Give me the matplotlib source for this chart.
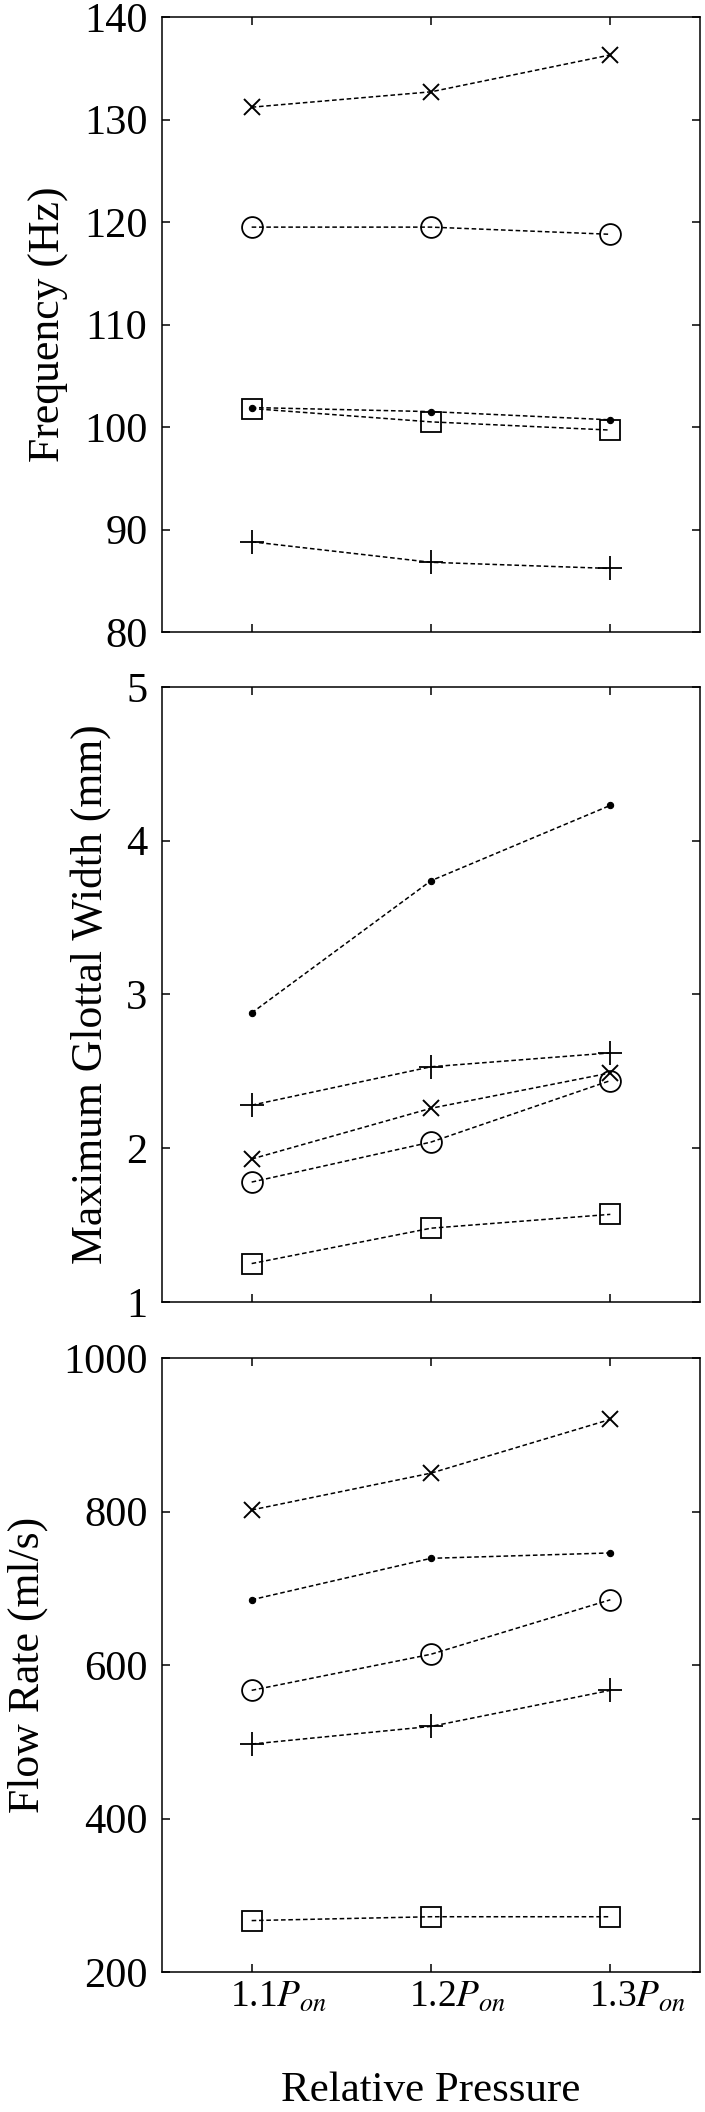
import matplotlib
matplotlib.use("Agg")
import matplotlib.pyplot as plt
from matplotlib.transforms import ScaledTranslation

plt.rcParams['font.family'] = 'serif'
plt.rcParams['font.serif'] = ['Liberation Serif', 'Times New Roman', 'DejaVu Serif']
plt.rcParams['mathtext.fontset'] = 'stix'

pressure = [1.1, 1.2, 1.3]
xtick_labels = [r'1.1$P_{on}$', r'1.2$P_{on}$', r'1.3$P_{on}$']

# Frequency (Hz)
freq_x = [131.2, 132.7, 136.3]
freq_circle = [119.5, 119.5, 118.8]
freq_dot = [101.9, 101.5, 100.7]
freq_square = [101.8, 100.5, 99.7]
freq_plus = [88.8, 86.8, 86.2]

# Maximum glottal width (mm)
gw_dot = [2.88, 3.74, 4.23]
gw_plus = [2.28, 2.53, 2.62]
gw_x = [1.93, 2.26, 2.49]
gw_circle = [1.78, 2.04, 2.44]
gw_square = [1.25, 1.48, 1.57]

# Flow rate (ml/s)
flow_x = [802, 850, 920]
flow_dot = [685, 739, 746]
flow_circle = [567, 614, 685]
flow_plus = [497, 520, 567]
flow_square = [267, 272, 272]

W, H = 705, 2112
fig = plt.figure(figsize=(W / 100, H / 100), dpi=100)

def ax_rect(top_px, bot_px):
    left = 162 / W
    width = 538 / W
    return [left, 1 - bot_px / H, width, (bot_px - top_px) / H]

styles = {
    'x': dict(marker='x', ms=12, mew=1.4, mfc='none'),
    'o': dict(marker='o', ms=15, mew=1.3, mfc='none'),
    'dot': dict(marker='o', ms=4.5, mew=0.8, mfc='black'),
    's': dict(marker='s', ms=14, mew=1.3, mfc='none'),
    '+': dict(marker='+', ms=17, mew=1.3, mfc='none'),
}

def draw(ax, series):
    for key, vals in series:
        ax.plot(pressure, vals, color='black', lw=1.1, ls=(0, (3, 1.8)),
                mec='black', **styles[key])

def style_axis(ax, ylim, yticks, ylabel, show_x):
    ax.set_xlim(1.05, 1.35)
    ax.set_ylim(*ylim)
    ax.set_yticks(yticks)
    ax.set_xticks(pressure)
    if show_x:
        ax.set_xticklabels(xtick_labels, fontsize=27)
        ax.set_xlabel('Relative Pressure', fontsize=31, labelpad=41)
    else:
        ax.set_xticklabels([])
    ax.set_ylabel(ylabel, fontsize=31.5, labelpad=11)
    ax.tick_params(direction='in', length=6, width=1.1, top=True, right=True)
    ax.tick_params(axis='y', pad=10.5, labelsize=30.5)
    ax.tick_params(axis='x', pad=6)
    for s in ax.spines.values():
        s.set_linewidth(1.1)

ax1 = fig.add_axes(ax_rect(17, 632))
draw(ax1, [('x', freq_x), ('o', freq_circle), ('dot', freq_dot),
           ('s', freq_square), ('+', freq_plus)])
style_axis(ax1, (80, 140), range(80, 141, 10), 'Frequency (Hz)', False)

ax2 = fig.add_axes(ax_rect(687, 1302))
draw(ax2, [('dot', gw_dot), ('+', gw_plus), ('x', gw_x), ('o', gw_circle),
           ('s', gw_square)])
style_axis(ax2, (1, 5), range(1, 6), 'Maximum Glottal Width (mm)', False)

ax3 = fig.add_axes(ax_rect(1358, 1972))
draw(ax3, [('x', flow_x), ('dot', flow_dot), ('o', flow_circle),
           ('+', flow_plus), ('s', flow_square)])
style_axis(ax3, (200, 1000), range(200, 1001, 200), 'Flow Rate (ml/s)', True)
shift = ScaledTranslation(27 / 100, 0, fig.dpi_scale_trans)
for lab in ax3.get_xticklabels():
    lab.set_transform(lab.get_transform() + shift)

fig.savefig('out.png', dpi=100)
